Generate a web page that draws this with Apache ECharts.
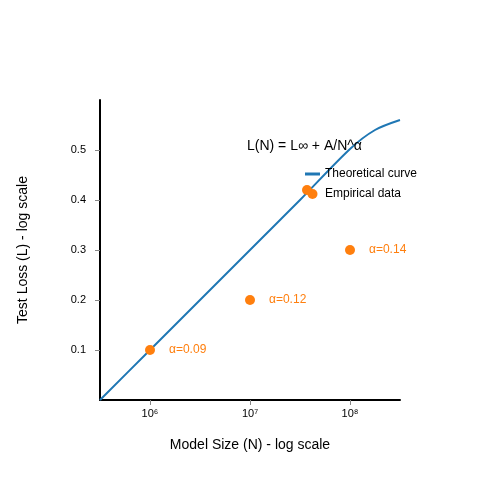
<!DOCTYPE html><html><head><meta charset="utf-8"><script src="https://cdn.jsdelivr.net/npm/echarts@6/dist/echarts.min.js"></script></head><body style="margin:0"><div id="c" style="width:500px;height:500px"></div><script>
const xTickValues=[0.5,1.5,2.5];
const xTickLabels=['10⁶','10⁷','10⁸'];
const yTickValues=[0.1,0.2,0.3,0.4,0.5];
const curveX=[0,0.5,1,1.5,2,2.5,2.75,3];
const curveY=[0,0.1,0.2,0.3,0.4,0.502,0.54,0.56];
const empX=[0.5,1.5,2.07,2.5];
const empY=[0.1,0.2,0.42,0.3];
const empLabels=['α=0.09','α=0.12','','α=0.14'];
const ch=echarts.init(document.getElementById('c'));
ch.setOption({animation:false,
grid:{left:100,right:100,top:100,bottom:100},
title:{text:'L(N) = L∞ + A/N^α',left:242,top:134,textStyle:{fontSize:14,fontWeight:'normal',color:'#000',fontFamily:'Liberation Sans'}},
legend:{orient:'vertical',left:300,top:163,itemGap:8,itemWidth:15,itemHeight:10,textStyle:{fontSize:12,color:'#000',fontFamily:'Liberation Sans'},
data:[{name:'Theoretical curve',icon:'path://M0,4h15v3h-15z',itemStyle:{color:'#1f77b4'}},{name:'Empirical data',icon:'circle'}]},
xAxis:{type:'value',min:0,max:3,name:'Model Size (N) - log scale',nameLocation:'middle',nameGap:38,nameTextStyle:{fontSize:14,color:'#000',fontFamily:'Liberation Sans'},
axisLine:{lineStyle:{color:'#000',width:2}},splitLine:{show:false},
axisTick:{customValues:xTickValues,lineStyle:{color:'#888'}},
axisLabel:{customValues:xTickValues,fontSize:11,color:'#000',formatter:v=>xTickLabels[xTickValues.indexOf(v)]}},
yAxis:{type:'value',min:0,max:0.6,name:'Test Loss (L) - log scale',nameLocation:'middle',nameGap:70,nameTextStyle:{fontSize:14,color:'#000',fontFamily:'Liberation Sans'},
axisLine:{show:true,lineStyle:{color:'#000',width:2}},splitLine:{show:false},axisTick:{show:true,customValues:yTickValues,lineStyle:{color:'#888'}},
axisLabel:{customValues:yTickValues,fontSize:11,color:'#000',margin:14,formatter:v=>v.toFixed(1)}},
series:[{name:'Theoretical curve',type:'line',smooth:0.3,symbol:'none',data:curveX.map((x,i)=>[x,curveY[i]]),lineStyle:{color:'#1f77b4',width:2},itemStyle:{color:'#1f77b4'}},
{name:'Empirical data',type:'scatter',symbolSize:10,itemStyle:{color:'#ff7f0e',opacity:1},z:5,data:empX.map((x,i)=>[x,empY[i]]),
label:{show:true,position:'right',distance:14,color:'#ff7f0e',fontSize:12,formatter:p=>empLabels[p.dataIndex]}}]});
</script></body></html>
